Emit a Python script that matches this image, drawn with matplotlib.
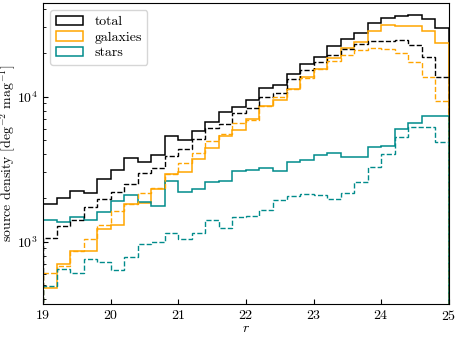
import numpy as np
import matplotlib
matplotlib.use("Agg")
import matplotlib.pyplot as plt
from matplotlib.patches import Rectangle

plt.rcParams["font.family"] = "serif"
plt.rcParams["font.serif"] = ["cmr10"]
plt.rcParams["mathtext.fontset"] = "cm"
plt.rcParams["axes.formatter.use_mathtext"] = True
plt.rcParams["font.size"] = 10

# r-band magnitude bins (0.2 mag wide)
bin_edges = np.linspace(19, 25, 31)

# solid: full sample
total = [1820, 2000, 2240, 2170, 2710, 3120, 3780, 3545, 3960, 5360,
         4990, 5750, 6690, 7840, 8530, 9490, 11480, 12040, 14340, 16810,
         18870, 22190, 25000, 27500, 32240, 34900, 35740, 36480, 34350, 29910]
galaxies = [476, 702, 863, 863, 1218, 1304, 1811, 1834, 2320, 2930,
            3025, 3718, 4429, 5358, 5847, 7019, 8627, 9489, 11300, 13570,
            15520, 18490, 21670, 23840, 28390, 30970, 30730, 30590, 28390, 23580]
stars = [1411, 1367, 1480, 1411, 1602, 1909, 2100, 1878, 1763, 2622,
         2191, 2298, 2568, 2610, 3073, 3122, 3238, 3087, 3545, 3642,
         3963, 4111, 3820, 3820, 4478, 4594, 5961, 6617, 7360, 7396]

# dashed: second sample
total_d = [1060, 1283, 1411, 1735, 1970, 2202, 2500, 2977, 3224, 3900,
           4358, 5068, 6113, 6513, 7719, 8318, 9954, 10520, 13180, 15280,
           17350, 19480, 21260, 23200, 24030, 24030, 24530, 22840, 18870, 13670]
galaxies_d = [605, 680, 863, 1052, 1304, 1628, 1811, 2177, 2335, 2930,
              3490, 4090, 4949, 5532, 6535, 6942, 8627, 9952, 11360, 13460,
              15400, 17630, 19240, 20830, 21570, 21330, 19920, 17430, 13610, 9340]
stars_d = [495, 648, 608, 760, 724, 638, 784, 964, 995, 1148,
           1039, 1143, 1411, 1237, 1487, 1511, 1654, 1940, 2067, 2123,
           2109, 1970, 2167, 2593, 3275, 4045, 5248, 6152, 6152, 4849]

labels = ["total", "galaxies", "stars"]
colors = ["black", "orange", "darkcyan"]

fig = plt.figure(figsize=(4.58, 3.38), dpi=100)
ax = fig.add_axes([0.094, 0.1006, 0.886, 0.8905])

for vals, c in zip([total, galaxies, stars], colors):
    ax.stairs(vals, bin_edges, color=c, lw=1.1)
for vals, c in zip([total_d, galaxies_d, stars_d], colors):
    ax.stairs(vals, bin_edges, color=c, lw=1.0, ls="--")

ax.set_yscale("log")
ax.set_xlim(19, 25)
ax.set_ylim(372, 44200)
ax.tick_params(which="both", direction="in")

ax.set_xlabel(r"$r$", labelpad=0)
ax.set_ylabel(r"source density [deg$^{-2}$ mag$^{-1}$]")
ax.yaxis.set_label_coords(-0.0615, 0.5)

# legend with open boxes like step histograms
handles = [Rectangle((0, 0), 1, 1, facecolor="none", edgecolor=c, lw=1.1) for c in colors]
ax.legend(handles, labels, loc="upper left", labelspacing=0.2, handlelength=2.0)

fig.savefig("out.png", dpi=100)
